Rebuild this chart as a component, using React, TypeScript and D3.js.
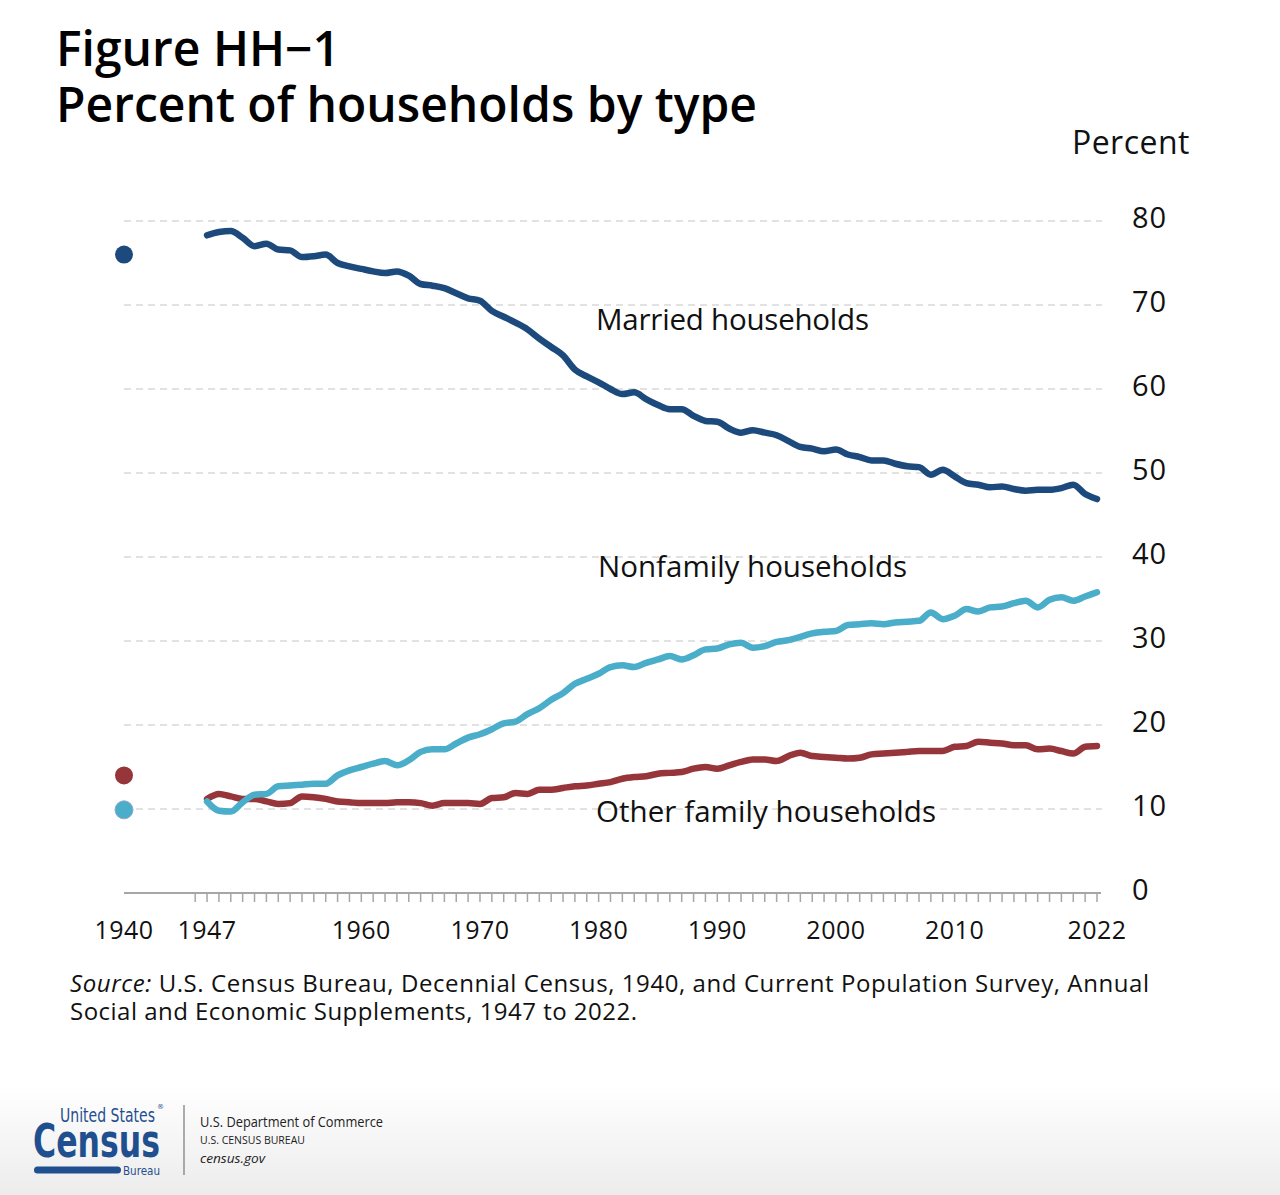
import React from "react";
import * as d3 from "d3";

const years: number[] = d3.range(1947, 2023);

const married: number[] = [
  78.3, 78.7, 78.8, 78.0, 77.0, 77.3, 76.6, 76.5, 75.7, 75.8,
  76.0, 75.0, 74.6, 74.3, 74.0, 73.8, 74.0, 73.5, 72.5, 72.3,
  72.0, 71.4, 70.8, 70.5, 69.3, 68.6, 67.9, 67.1, 66.0, 65.0,
  64.0, 62.3, 61.5, 60.8, 60.0, 59.4, 59.6, 58.8, 58.1, 57.6,
  57.6, 56.8, 56.2, 56.1, 55.3, 54.8, 55.1, 54.8, 54.5, 53.8,
  53.1, 52.9, 52.6, 52.8, 52.2, 51.9, 51.5, 51.5, 51.1, 50.8,
  50.7, 49.8, 50.4, 49.6, 48.8, 48.6, 48.3, 48.4, 48.1, 47.9,
  48.0, 48.0, 48.2, 48.6, 47.5, 46.9,
];

const nonfamily: number[] = [
  10.9, 9.8, 9.7, 10.8, 11.7, 11.8, 12.7, 12.8, 12.9, 13.0,
  13.0, 14.0, 14.6, 15.0, 15.4, 15.7, 15.2, 15.8, 16.8, 17.1,
  17.1, 17.8, 18.5, 18.9, 19.5, 20.2, 20.4, 21.3, 22.0, 23.0,
  23.8, 24.9, 25.5, 26.1, 26.9, 27.1, 26.9, 27.4, 27.8, 28.2,
  27.8, 28.3, 29.0, 29.1, 29.6, 29.8, 29.2, 29.4, 29.9, 30.1,
  30.5, 30.9, 31.1, 31.2, 31.9, 32.0, 32.1, 32.0, 32.2, 32.3,
  32.4, 33.4, 32.6, 33.0, 33.8, 33.5, 34.0, 34.1, 34.5, 34.8,
  34.0, 34.9, 35.2, 34.8, 35.3, 35.8,
];

const otherFamily: number[] = [
  11.2, 11.8, 11.5, 11.2, 11.2, 10.9, 10.6, 10.7, 11.5, 11.4,
  11.2, 10.9, 10.8, 10.7, 10.7, 10.7, 10.8, 10.8, 10.7, 10.4,
  10.7, 10.7, 10.7, 10.6, 11.3, 11.4, 11.9, 11.8, 12.3, 12.3,
  12.5, 12.7, 12.8, 13.0, 13.2, 13.6, 13.8, 13.9, 14.2, 14.3,
  14.4, 14.8, 15.0, 14.8, 15.2, 15.6, 15.9, 15.9, 15.7, 16.3,
  16.7, 16.3, 16.2, 16.1, 16.0, 16.1, 16.5, 16.6, 16.7, 16.8,
  16.9, 16.9, 16.9, 17.4, 17.5, 18.0, 17.9, 17.8, 17.6, 17.6,
  17.1, 17.2, 16.9, 16.6, 17.4, 17.5,
];

const census1940Year = 1940;
const census1940Married = 76.0;
const census1940Other = 14.0;
const census1940Nonfamily = 9.9;

const yTicks: number[] = [0, 10, 20, 30, 40, 50, 60, 70, 80];
const xLabelYears: number[] = [1940, 1947, 1960, 1970, 1980, 1990, 2000, 2010, 2022];
const tickYears: number[] = d3.range(1946, 2023);

const seriesLabels = {
  married: "Married households",
  nonfamily: "Nonfamily households",
  other: "Other family households",
};

const C_MARRIED = "#1d4a7c";
const C_NONFAM = "#4aadc9";
const C_OTHER = "#96353a";
const FONT = "'Open Sans', 'Noto Sans', sans-serif";
const NARROW = "'Liberation Sans Narrow', 'DejaVu Sans Condensed', sans-serif";

export default function App() {
  const x = d3.scaleLinear().domain([1940, 2022]).range([124, 1097]);
  const y = d3.scaleLinear().domain([0, 80]).range([893, 221]);

  const line = d3
    .line<number>()
    .x((_, i) => x(years[i]))
    .y((d) => y(d))
    .curve(d3.curveMonotoneX);

  const series = [
    { values: otherFamily, color: C_OTHER },
    { values: nonfamily, color: C_NONFAM },
    { values: married, color: C_MARRIED },
  ];

  return (
    <svg
      width={1280}
      height={1195}
      viewBox="0 0 1280 1195"
      style={{ position: "absolute", left: 0, top: 0, background: "#fff" }}
      fontFamily={FONT}
    >
      <defs>
        <linearGradient id="footerGrad" x1="0" y1="0" x2="0" y2="1">
          <stop offset="0" stopColor="#ffffff" />
          <stop offset="1" stopColor="#ececec" />
        </linearGradient>
      </defs>
      <rect x={0} y={0} width={1280} height={1195} fill="#fff" />
      <rect x={0} y={1085} width={1280} height={110} fill="url(#footerGrad)" />

      {/* Title */}
      <text x={56} y={66} fontSize={48} fontWeight={600} fill="#000">
        Figure HH−1
      </text>
      <text x={56} y={122} fontSize={48} fontWeight={600} fill="#000" textLength={701} lengthAdjust="spacing">
        Percent of households by type
      </text>

      {/* Y axis title */}
      <text x={1190} y={154} fontSize={32} textAnchor="end" fill="#111" letterSpacing={0.5}>
        Percent
      </text>

      {/* Gridlines */}
      {yTicks
        .filter((t) => t > 0)
        .map((t) => (
          <line
            key={"g" + t}
            x1={124}
            x2={1102}
            y1={y(t)}
            y2={y(t)}
            stroke="#d9d9d9"
            strokeWidth={1.4}
            strokeDasharray="7 5"
          />
        ))}

      {/* Y labels */}
      {yTicks.map((t) => (
        <text key={"yl" + t} x={1132} y={y(t) + 6.5} fontSize={29} fill="#111" letterSpacing={1}>
          {t}
        </text>
      ))}

      {/* X axis */}
      <line x1={124} x2={1101} y1={y(0)} y2={y(0)} stroke="#a6a6a6" strokeWidth={2} />
      {tickYears.map((yr) => (
        <line
          key={"t" + yr}
          x1={x(yr)}
          x2={x(yr)}
          y1={y(0)}
          y2={y(0) + 9}
          stroke="#a6a6a6"
          strokeWidth={1.5}
        />
      ))}
      {xLabelYears.map((yr) => (
        <text key={"xl" + yr} x={x(yr)} y={939} fontSize={25} textAnchor="middle" fill="#111" letterSpacing={0.5}>
          {yr}
        </text>
      ))}

      {/* Lines */}
      {series.map((s, i) => (
        <path
          key={"s" + i}
          d={line(s.values) || ""}
          fill="none"
          stroke={s.color}
          strokeWidth={6.5}
          strokeLinecap="round"
          strokeLinejoin="round"
        />
      ))}

      {/* 1940 census dots */}
      <circle cx={x(census1940Year)} cy={y(census1940Married)} r={9} fill={C_MARRIED} />
      <circle cx={x(census1940Year)} cy={y(census1940Other)} r={9} fill={C_OTHER} />
      <circle cx={x(census1940Year)} cy={y(census1940Nonfamily)} r={9} fill={C_NONFAM} stroke="#8fa6cf" strokeWidth={1} />

      {/* Series labels */}
      <text x={596} y={330} fontSize={29.5} fill="#111" textLength={273} lengthAdjust="spacing">
        {seriesLabels.married}
      </text>
      <text x={598} y={577} fontSize={29.5} fill="#111" textLength={309} lengthAdjust="spacing">
        {seriesLabels.nonfamily}
      </text>
      <text x={596} y={822} fontSize={29.5} fill="#111" textLength={340} lengthAdjust="spacing">
        {seriesLabels.other}
      </text>

      {/* Source */}
      <text x={70} y={992} fontSize={24} fill="#111" textLength={1079} lengthAdjust="spacing">
        <tspan fontStyle="italic">Source:</tspan>
        <tspan> U.S. Census Bureau, Decennial Census, 1940, and Current Population Survey, Annual</tspan>
      </text>
      <text x={70} y={1020} fontSize={24} fill="#111" textLength={567} lengthAdjust="spacing">
        Social and Economic Supplements, 1947 to 2022.
      </text>

      {/* Footer logo */}
      <g fill="#1f4f8e">
        <text x={60} y={1122} fontSize={20} fontFamily={NARROW} textLength={95} lengthAdjust="spacingAndGlyphs">
          United States
        </text>
        <text x={157} y={1109} fontSize={7} fontFamily="'DejaVu Sans', sans-serif">
          ®
        </text>
        <text
          x={33}
          y={1157}
          fontSize={46}
          fontWeight={700}
          fontFamily={NARROW}
          textLength={127}
          lengthAdjust="spacingAndGlyphs"
        >
          Census
        </text>
        <rect x={34} y={1166.5} width={87} height={7} rx={3.5} />
        <text x={123} y={1175} fontSize={13} fontFamily={NARROW} textLength={37} lengthAdjust="spacingAndGlyphs">
          Bureau
        </text>
      </g>
      <line x1={184} x2={184} y1={1105} y2={1175} stroke="#777" strokeWidth={1.2} />
      <text x={200} y={1127} fontSize={14} fill="#222" textLength={183} lengthAdjust="spacingAndGlyphs">
        U.S. Department of Commerce
      </text>
      <text x={200} y={1144} fontSize={10.5} fill="#222" textLength={105} lengthAdjust="spacingAndGlyphs">
        U.S. CENSUS BUREAU
      </text>
      <text x={200} y={1163} fontSize={13} fontStyle="italic" fill="#222" textLength={65} lengthAdjust="spacingAndGlyphs">
        census.gov
      </text>
    </svg>
  );
}
